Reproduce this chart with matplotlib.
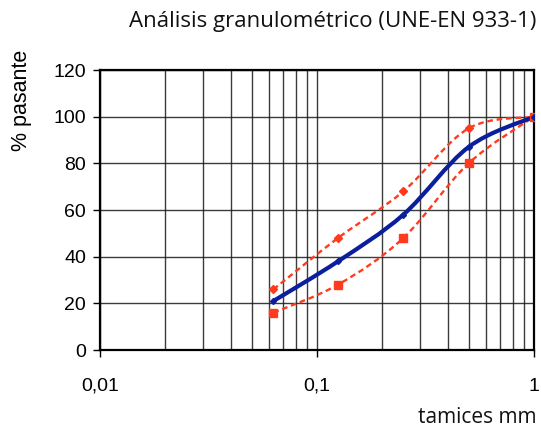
import numpy as np
import matplotlib
matplotlib.use("Agg")
import matplotlib.pyplot as plt
from matplotlib.path import Path
from matplotlib.patches import PathPatch
from matplotlib.ticker import FixedLocator, LogLocator, NullFormatter

sieves = [0.063, 0.125, 0.25, 0.5, 1.0]
curve = [21, 38, 58, 87, 100]
upper = [26, 48, 68, 95, 100]
lower = [16, 28, 48, 80, 100]

xticks = [0.01, 0.1, 1]
xticklabels = ["0,01", "0,1", "1"]
yticks = [0, 20, 40, 60, 80, 100, 120]


def smooth_path(xs, ys, t=0.5):
    # Catmull-Rom style Bezier segments in (log10 x, y) space
    lx = np.log10(xs)
    ys = np.asarray(ys, float)
    n = len(lx)
    verts = [(xs[0], ys[0])]
    codes = [Path.MOVETO]
    for i in range(n - 1):
        p0 = (lx[max(i - 1, 0)], ys[max(i - 1, 0)])
        p1 = (lx[i], ys[i])
        p2 = (lx[i + 1], ys[i + 1])
        p3 = (lx[min(i + 2, n - 1)], ys[min(i + 2, n - 1)])
        c1 = (p1[0] + (p2[0] - p0[0]) * t / 3, p1[1] + (p2[1] - p0[1]) * t / 3)
        c2 = (p2[0] - (p3[0] - p1[0]) * t / 3, p2[1] - (p3[1] - p1[1]) * t / 3)
        for c in (c1, c2, p2):
            verts.append((10 ** c[0], c[1]))
            codes.append(Path.CURVE4)
    return Path(verts, codes)


fig = plt.figure(figsize=(5.41, 4.30), dpi=100)
ax = fig.add_axes([0.1848, 0.186, 0.802, 0.651])
ax.set_xscale("log")
ax.set_xlim(0.01, 1)
ax.set_ylim(0, 120)

ax.xaxis.set_major_locator(FixedLocator(xticks))
ax.set_xticklabels(xticklabels)
ax.xaxis.set_minor_locator(LogLocator(base=10, subs=np.arange(2, 10)))
ax.xaxis.set_minor_formatter(NullFormatter())
ax.set_yticks(yticks)

ax.grid(True, which="both", axis="x", color="#1a1a1a", lw=1.0, alpha=0.85)
ax.grid(True, which="major", axis="y", color="#1a1a1a", lw=1.0, alpha=0.85)
ax.tick_params(axis="x", which="minor", length=0)
ax.tick_params(axis="both", which="major", direction="out", length=5, width=1,
               labelsize=14)
ax.tick_params(axis="x", which="major", pad=15)
ax.tick_params(axis="y", which="major", pad=5)
for s in ax.spines.values():
    s.set_linewidth(1.6)
    s.set_color("black")

for ys, color, lw, ls in [(upper, "#ff3b1f", 1.7, (0, (2.4, 1.6))),
                          (lower, "#ff3b1f", 1.7, (0, (2.4, 1.6))),
                          (curve, "#0b1f9c", 3.0, "-")]:
    p = PathPatch(smooth_path(sieves, ys), fill=False, edgecolor=color,
                  lw=lw, linestyle=ls, zorder=3, capstyle="butt")
    ax.add_patch(p)

ax.plot(sieves, upper, linestyle="none", marker="D", ms=4, color="#ff3b1f", zorder=4)
ax.plot(sieves, lower, linestyle="none", marker="s", ms=5.5, color="#ff3b1f", zorder=4)
ax.plot(sieves, curve, linestyle="none", marker="D", ms=3, color="#0b1f9c", zorder=5)

fig.text(0.992, 0.949, "Análisis granulométrico (UNE-EN 933-1)", ha="right",
         va="center", fontsize=16, family="Open Sans", color="#111111")
fig.text(0.992, 0.03, "tamices mm", ha="right", va="center",
         fontsize=15, family="Open Sans", color="#111111")
fig.text(0.04, 0.767, "% pasante", rotation=90, ha="center", va="center",
         fontsize=15.5, family="Liberation Sans")
for lab in ax.get_xticklabels() + ax.get_yticklabels():
    lab.set_family("Liberation Sans")

fig.savefig("out.png", dpi=100)
